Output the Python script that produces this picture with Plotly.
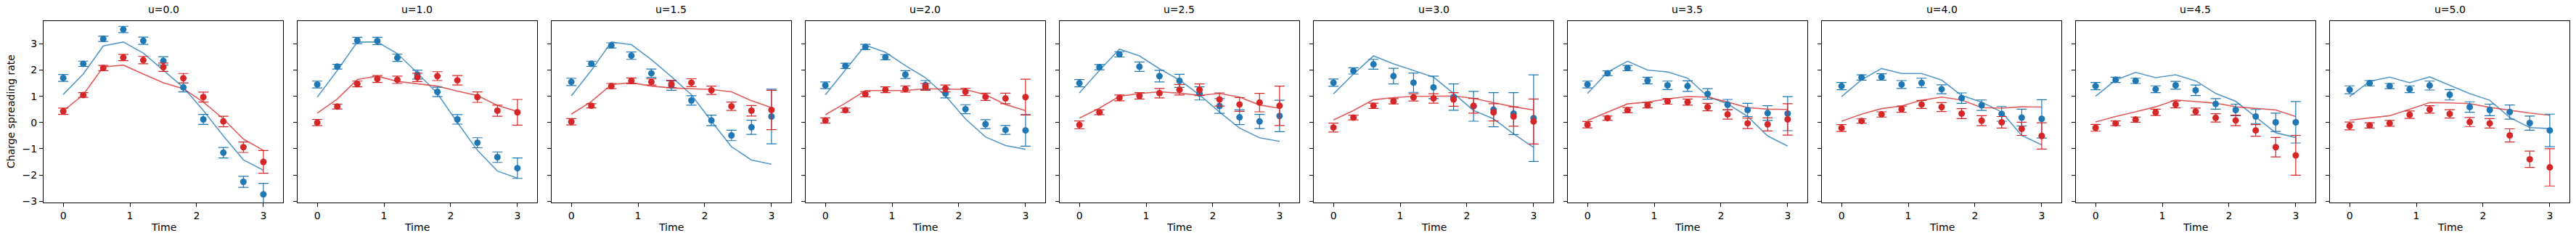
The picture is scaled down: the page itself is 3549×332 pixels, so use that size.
import plotly.graph_objects as go
from plotly.subplots import make_subplots

time = [0.0, 0.3, 0.6, 0.9, 1.2, 1.5, 1.8, 2.1, 2.4, 2.7, 3.0]
u_values = [0.0, 1.0, 1.5, 2.0, 2.5, 3.0, 3.5, 4.0, 4.5, 5.0]

blue_obs = [
    [1.70, 2.24, 3.19, 3.55, 3.12, 2.35, 1.34, 0.12, -1.15, -2.26, -2.74],
    [1.45, 2.13, 3.13, 3.11, 2.47, 1.83, 1.17, 0.12, -0.77, -1.32, -1.74],
    [1.55, 2.24, 2.94, 2.55, 1.88, 1.41, 0.84, 0.08, -0.49, -0.18, 0.23],
    [1.42, 2.16, 2.88, 2.49, 1.83, 1.43, 1.11, 0.51, -0.06, -0.28, -0.30],
    [1.50, 2.11, 2.60, 2.13, 1.77, 1.59, 1.11, 0.63, 0.20, 0.04, 0.25],
    [1.52, 1.97, 2.22, 1.77, 1.52, 1.34, 0.97, 0.62, 0.49, 0.34, 0.17],
    [1.45, 1.88, 2.08, 1.60, 1.42, 1.39, 1.09, 0.68, 0.48, 0.36, 0.34],
    [1.39, 1.72, 1.74, 1.45, 1.51, 1.27, 0.93, 0.66, 0.33, 0.19, 0.14],
    [1.39, 1.63, 1.59, 1.27, 1.42, 1.23, 0.71, 0.48, 0.23, 0.01, 0.01],
    [1.25, 1.50, 1.39, 1.27, 1.41, 1.06, 0.59, 0.48, 0.40, -0.02, -0.30],
]
blue_err = [
    [0.13, 0.10, 0.10, 0.12, 0.14, 0.16, 0.17, 0.19, 0.20, 0.21, 0.42],
    [0.13, 0.09, 0.12, 0.14, 0.14, 0.17, 0.18, 0.18, 0.19, 0.20, 0.39],
    [0.14, 0.10, 0.10, 0.14, 0.16, 0.18, 0.18, 0.20, 0.20, 0.27, 1.04],
    [0.13, 0.10, 0.10, 0.10, 0.15, 0.17, 0.17, 0.17, 0.17, 0.17, 0.60],
    [0.14, 0.10, 0.10, 0.18, 0.22, 0.25, 0.25, 0.28, 0.28, 0.27, 0.60],
    [0.14, 0.12, 0.19, 0.30, 0.37, 0.43, 0.50, 0.57, 0.65, 0.80, 1.65],
    [0.13, 0.09, 0.10, 0.13, 0.16, 0.20, 0.20, 0.20, 0.25, 0.28, 0.65],
    [0.14, 0.10, 0.12, 0.15, 0.18, 0.17, 0.20, 0.20, 0.28, 0.32, 0.73],
    [0.14, 0.10, 0.10, 0.13, 0.15, 0.20, 0.20, 0.22, 0.27, 0.35, 0.79],
    [0.15, 0.10, 0.10, 0.13, 0.17, 0.20, 0.20, 0.22, 0.27, 0.27, 0.62],
]
blue_fit = [
    [1.07, 1.85, 2.92, 3.07, 2.65, 1.99, 1.34, 0.46, -0.51, -1.42, -1.82],
    [0.97, 1.99, 3.07, 3.07, 2.63, 1.89, 1.11, 0.00, -1.06, -1.85, -2.12],
    [1.02, 1.99, 3.07, 2.97, 2.40, 1.75, 1.06, 0.05, -0.92, -1.43, -1.59],
    [1.06, 1.99, 2.95, 2.68, 2.17, 1.71, 1.02, 0.14, -0.55, -0.88, -1.02],
    [1.13, 1.99, 2.80, 2.54, 2.05, 1.62, 1.06, 0.40, -0.21, -0.58, -0.72],
    [1.09, 1.85, 2.54, 2.24, 1.99, 1.73, 1.11, 0.46, 0.14, -0.43, -0.95],
    [1.11, 1.92, 2.34, 2.00, 1.93, 1.69, 1.00, 0.71, 0.23, -0.51, -0.90],
    [0.99, 1.63, 2.06, 1.87, 1.87, 1.62, 1.03, 0.78, 0.40, -0.49, -0.85],
    [1.00, 1.62, 1.91, 1.71, 1.82, 1.59, 1.11, 0.81, 0.21, -0.39, -0.57],
    [0.99, 1.57, 1.73, 1.52, 1.74, 1.41, 1.10, 0.85, 0.19, -0.19, -0.23],
]
red_obs = [
    [0.43, 1.05, 2.08, 2.48, 2.38, 2.11, 1.69, 0.97, 0.04, -0.94, -1.50],
    [0.00, 0.61, 1.47, 1.66, 1.63, 1.72, 1.77, 1.61, 0.97, 0.45, 0.39],
    [0.03, 0.64, 1.39, 1.59, 1.55, 1.47, 1.52, 1.23, 0.62, 0.45, 0.48],
    [0.08, 0.47, 1.08, 1.25, 1.28, 1.36, 1.30, 1.17, 0.98, 0.92, 0.97],
    [-0.09, 0.39, 0.94, 1.02, 1.12, 1.25, 1.25, 0.88, 0.69, 0.76, 0.64],
    [-0.19, 0.19, 0.64, 0.81, 0.96, 0.92, 0.88, 0.64, 0.39, 0.23, 0.04],
    [-0.08, 0.17, 0.47, 0.66, 0.81, 0.78, 0.59, 0.31, -0.03, -0.07, 0.12],
    [-0.21, 0.06, 0.31, 0.51, 0.69, 0.59, 0.34, 0.07, 0.01, -0.24, -0.51],
    [-0.20, -0.03, 0.11, 0.39, 0.69, 0.42, 0.18, 0.08, -0.30, -0.94, -1.25],
    [-0.13, -0.11, -0.03, 0.30, 0.50, 0.33, 0.02, -0.03, -0.49, -1.40, -1.71],
]
red_err = [
    [0.12, 0.09, 0.10, 0.12, 0.14, 0.16, 0.18, 0.19, 0.20, 0.20, 0.43],
    [0.12, 0.09, 0.11, 0.13, 0.14, 0.16, 0.17, 0.18, 0.20, 0.21, 0.49],
    [0.12, 0.08, 0.10, 0.11, 0.12, 0.14, 0.15, 0.16, 0.16, 0.20, 0.75],
    [0.10, 0.08, 0.10, 0.11, 0.12, 0.13, 0.13, 0.14, 0.14, 0.20, 0.68],
    [0.15, 0.09, 0.11, 0.12, 0.18, 0.20, 0.22, 0.25, 0.26, 0.35, 0.75],
    [0.17, 0.09, 0.10, 0.10, 0.14, 0.18, 0.26, 0.28, 0.33, 0.37, 0.86],
    [0.12, 0.08, 0.10, 0.10, 0.11, 0.12, 0.14, 0.18, 0.20, 0.25, 0.60],
    [0.13, 0.08, 0.10, 0.12, 0.15, 0.17, 0.19, 0.19, 0.22, 0.25, 0.50],
    [0.13, 0.09, 0.10, 0.12, 0.13, 0.13, 0.16, 0.20, 0.22, 0.37, 0.76],
    [0.15, 0.10, 0.11, 0.14, 0.14, 0.16, 0.17, 0.18, 0.25, 0.31, 0.71],
]
red_fit = [
    [0.44, 1.06, 2.12, 2.19, 1.85, 1.52, 1.29, 0.78, 0.14, -0.63, -1.06],
    [0.36, 0.90, 1.64, 1.77, 1.57, 1.48, 1.39, 1.20, 1.03, 0.65, 0.42],
    [0.32, 0.80, 1.45, 1.52, 1.39, 1.32, 1.29, 1.26, 1.17, 0.83, 0.57],
    [0.30, 0.74, 1.22, 1.22, 1.22, 1.29, 1.27, 1.26, 1.06, 0.69, 0.45],
    [0.17, 0.55, 1.00, 1.11, 1.17, 1.12, 1.04, 1.11, 0.97, 0.67, 0.54],
    [0.10, 0.46, 0.87, 0.95, 1.00, 1.01, 1.01, 0.92, 0.75, 0.60, 0.48],
    [0.08, 0.40, 0.71, 0.78, 0.90, 0.99, 0.97, 0.78, 0.57, 0.51, 0.50],
    [0.05, 0.32, 0.53, 0.63, 0.85, 0.97, 0.86, 0.57, 0.55, 0.60, 0.59],
    [0.02, 0.23, 0.41, 0.60, 0.86, 0.80, 0.74, 0.60, 0.54, 0.48, 0.23],
    [0.09, 0.18, 0.26, 0.51, 0.76, 0.75, 0.72, 0.58, 0.46, 0.36, 0.28],
]

BLUE = "#1f77b4"
RED = "#d62728"
BLUE_LINE = "rgba(31,119,180,0.75)"
RED_LINE = "rgba(214,39,40,0.75)"
FONT = "DejaVu Sans"

W, H = 3549, 332
ML, MR, MT, MB = 60, 9, 29, 53
plot_w = W - ML - MR
n = len(u_values)
gap = 20.0 / plot_w

fig = make_subplots(rows=1, cols=n, shared_yaxes=True, horizontal_spacing=gap)

for i in range(n):
    col = i + 1
    fig.add_trace(go.Scatter(x=time, y=blue_fit[i], mode="lines",
                             line=dict(color=BLUE_LINE, width=1.6),
                             showlegend=False, hoverinfo="skip"), row=1, col=col)
    fig.add_trace(go.Scatter(x=time, y=red_fit[i], mode="lines",
                             line=dict(color=RED_LINE, width=1.6),
                             showlegend=False, hoverinfo="skip"), row=1, col=col)
    fig.add_trace(go.Scatter(x=time, y=blue_obs[i], mode="markers",
                             marker=dict(color=BLUE, size=9),
                             error_y=dict(type="data", array=blue_err[i], visible=True,
                                          color=BLUE, thickness=1.2, width=7),
                             showlegend=False), row=1, col=col)
    fig.add_trace(go.Scatter(x=time, y=red_obs[i], mode="markers",
                             marker=dict(color=RED, size=9),
                             error_y=dict(type="data", array=red_err[i], visible=True,
                                          color=RED, thickness=1.2, width=7),
                             showlegend=False), row=1, col=col)

axis_common = dict(showline=True, linecolor="black", linewidth=1, mirror=True,
                   ticks="outside", ticklen=5, tickwidth=1, tickcolor="black",
                   showgrid=False, zeroline=False,
                   tickfont=dict(family=FONT, size=14, color="black"))
fig.update_xaxes(range=[-0.295, 3.295], tickvals=[0, 1, 2, 3], **axis_common)
fig.update_yaxes(range=[-3.05, 3.87], tickvals=[-3, -2, -1, 0, 1, 2, 3], **axis_common)

annotations = []
for i in range(n):
    xa = fig.layout["xaxis" if i == 0 else f"xaxis{i+1}"]
    cx = (xa.domain[0] + xa.domain[1]) / 2
    annotations.append(dict(text=f"u={u_values[i]:.1f}", x=cx, y=1, xref="paper", yref="paper",
                            xanchor="center", yanchor="bottom", yshift=6, showarrow=False,
                            font=dict(family=FONT, size=14, color="black")))
    annotations.append(dict(text="Time", x=cx, y=(H - MB - 313) / (H - MT - MB),
                            xref="paper", yref="paper", xanchor="center", yanchor="middle",
                            showarrow=False, font=dict(family=FONT, size=14, color="black")))
annotations.append(dict(text="Charge spreading rate", x=(15 - ML) / plot_w, y=0.5,
                        xref="paper", yref="paper", xanchor="center", yanchor="middle",
                        textangle=-90, showarrow=False,
                        font=dict(family=FONT, size=14, color="black")))

fig.update_layout(width=W, height=H, margin=dict(l=ML, r=MR, t=MT, b=MB),
                  paper_bgcolor="white", plot_bgcolor="white",
                  annotations=annotations, showlegend=False,
                  font=dict(family=FONT, size=14, color="black"))

fig.write_html("out.html")
